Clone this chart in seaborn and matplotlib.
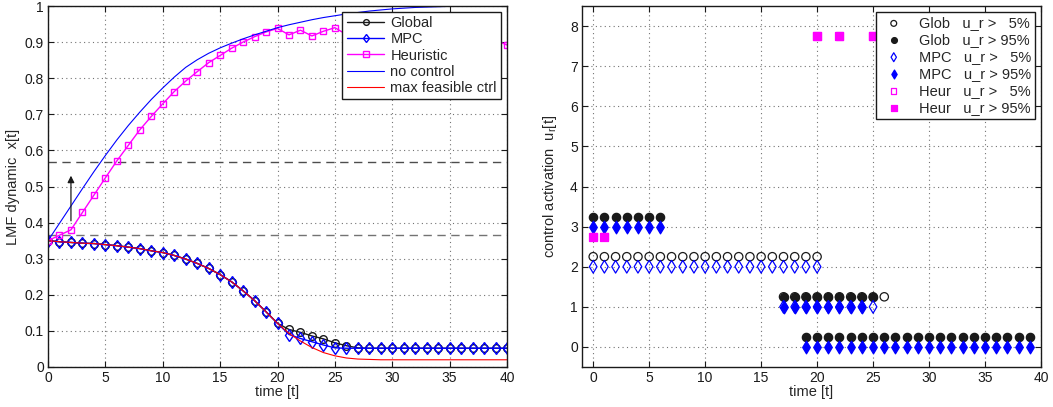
import numpy as np
import pandas as pd
import matplotlib
matplotlib.use("Agg")
import matplotlib.pyplot as plt
import seaborn as sns

# ---------------- data (left panel) ----------------
t = list(range(41))
global_x = [0.350, 0.347, 0.345, 0.343, 0.342, 0.339, 0.336, 0.332, 0.328, 0.322,
            0.317, 0.309, 0.299, 0.287, 0.273, 0.256, 0.236, 0.211, 0.184, 0.153,
            0.121, 0.104, 0.096, 0.086, 0.078, 0.067, 0.059, 0.053, 0.052, 0.052,
            0.052, 0.052, 0.052, 0.052, 0.052, 0.052, 0.052, 0.052, 0.052, 0.052, 0.052]
mpc_x = [0.350, 0.347, 0.345, 0.343, 0.342, 0.339, 0.336, 0.332, 0.328, 0.322,
         0.317, 0.309, 0.299, 0.287, 0.273, 0.256, 0.236, 0.211, 0.184, 0.153,
         0.121, 0.090, 0.079, 0.070, 0.061, 0.053, 0.052, 0.052, 0.052, 0.052,
         0.052, 0.052, 0.052, 0.052, 0.052, 0.052, 0.052, 0.052, 0.052, 0.052, 0.052]
heur_x = [0.350, 0.365, 0.380, 0.428, 0.476, 0.524, 0.571, 0.614, 0.657, 0.694,
          0.729, 0.763, 0.792, 0.818, 0.843, 0.863, 0.883, 0.900, 0.915, 0.928,
          0.938, 0.920, 0.933, 0.917, 0.930, 0.940, 0.921, 0.933, 0.918, 0.930,
          0.915, 0.926, 0.912, 0.922, 0.908, 0.917, 0.903, 0.912, 0.898, 0.905, 0.892]
noctrl_x = [0.350, 0.398, 0.446, 0.494, 0.541, 0.586, 0.629, 0.669, 0.706, 0.741,
            0.773, 0.803, 0.830, 0.851, 0.869, 0.884, 0.897, 0.909, 0.920, 0.930,
            0.940, 0.948, 0.955, 0.962, 0.968, 0.973, 0.978, 0.982, 0.986, 0.989,
            0.992, 0.994, 0.996, 0.997, 0.998, 0.999, 0.999, 1.000, 1.000, 1.000, 1.000]
maxctrl_x = [0.350, 0.347, 0.345, 0.343, 0.342, 0.339, 0.336, 0.332, 0.328, 0.322,
             0.317, 0.309, 0.299, 0.287, 0.273, 0.256, 0.236, 0.211, 0.184, 0.153,
             0.121, 0.093, 0.072, 0.054, 0.040, 0.031, 0.025, 0.022, 0.021, 0.020,
             0.020, 0.020, 0.020, 0.020, 0.020, 0.020, 0.020, 0.020, 0.020, 0.020, 0.020]
thresh_hi = 0.567
thresh_lo = 0.365
arrow_t = 2
arrow_from = 0.405
arrow_to = 0.53
left_yticks = [0, 0.1, 0.2, 0.3, 0.4, 0.5, 0.6, 0.7, 0.8, 0.9, 1]
left_yticklabels = ["0", "0.1", "0.2", "0.3", "0.4", "0.5", "0.6", "0.7", "0.8", "0.9", "1"]
xticks = [0, 5, 10, 15, 20, 25, 30, 35, 40]

# ---------------- data (right panel): (time, control unit) ----------------
glob_t5 = list(range(0, 21)) + list(range(17, 27))
glob_u5 = [2] * 21 + [1] * 10
glob_t95 = list(range(0, 7)) + list(range(17, 26)) + list(range(19, 40))
glob_u95 = [3] * 7 + [1] * 9 + [0] * 21
mpc_t5 = list(range(0, 21)) + list(range(17, 26))
mpc_u5 = [2] * 21 + [1] * 9
mpc_t95 = list(range(0, 7)) + list(range(17, 25)) + list(range(19, 40))
mpc_u95 = [3] * 7 + [1] * 8 + [0] * 21
heur_t5 = [0, 1, 20, 22, 25]
heur_u5 = [3, 3, 8, 8, 8]
heur_t95 = [0, 1, 20, 22, 25]
heur_u95 = [3, 3, 8, 8, 8]

# ---------------- style ----------------
sns.set_theme(style="ticks")
plt.rcParams["font.family"] = ["Liberation Sans", "DejaVu Sans"]
plt.rcParams["mathtext.default"] = "regular"
plt.rcParams["xtick.direction"] = "in"
plt.rcParams["ytick.direction"] = "in"

fig = plt.figure(figsize=(10.53, 4.07), dpi=100)
ax1 = fig.add_axes([48 / 1053, 40 / 407, 459 / 1053, 361 / 407])
ax2 = fig.add_axes([582 / 1053, 40 / 407, 459 / 1053, 361 / 407])

for ax in (ax1, ax2):
    ax.grid(True, linestyle=(0, (1, 3)), color="0.45", linewidth=0.8)
    ax.tick_params(top=True, right=True, labelsize=10, length=4, width=0.8, colors="k", pad=3)
    for s in ax.spines.values():
        s.set_linewidth(1.0)
        s.set_color("k")
    ax.set_axisbelow(True)

# ---------------- left panel ----------------
ax1.axhline(thresh_hi, ls=(0, (6, 4)), color="0.3", lw=1.0, zorder=1.5)
ax1.axhline(thresh_lo, ls=(0, (6, 4)), color="0.45", lw=1.0, zorder=1.5)

ms = 5.5
sns.lineplot(x=t, y=global_x, ax=ax1, color="k", lw=1.0, marker="o", ms=ms,
             mfc="none", mec="k", mew=1.0, label="Global")
sns.lineplot(x=t, y=mpc_x, ax=ax1, color="#0000ff", lw=1.0, marker="d", ms=ms + 0.5,
             mfc="none", mec="#0000ff", mew=1.0, label="MPC")
sns.lineplot(x=t, y=heur_x, ax=ax1, color="#ff00ff", lw=1.0, marker="s", ms=5,
             mfc="none", mec="#ff00ff", mew=1.0, label="Heuristic")
sns.lineplot(x=t, y=noctrl_x, ax=ax1, color="#0000ff", lw=0.8, label="no control")
sns.lineplot(x=t, y=maxctrl_x, ax=ax1, color="#ff0000", lw=0.8, label="max feasible ctrl")

ax1.annotate("", xy=(arrow_t, arrow_to), xytext=(arrow_t, arrow_from),
             arrowprops=dict(arrowstyle="-|>", color="k", lw=0.9,
                             mutation_scale=10, shrinkA=0, shrinkB=0))

ax1.set_xlim(0, 40)
ax1.set_ylim(0, 1)
ax1.set_xticks(xticks)
ax1.set_yticks(left_yticks)
ax1.set_yticklabels(left_yticklabels)
ax1.set_xlabel("time [t]", fontsize=10.5, labelpad=0)
ax1.set_ylabel("LMF dynamic  x[t]", fontsize=10.5, labelpad=3)
leg1 = ax1.legend(loc="upper right", fontsize=10.5, frameon=True, fancybox=False,
                  edgecolor="k", framealpha=1, borderpad=0.3, labelspacing=0.15,
                  handlelength=2.6, handletextpad=0.4, borderaxespad=0.4, markerscale=0.75)
leg1.get_frame().set_linewidth(1.0)

# ---------------- right panel ----------------
off = {"Glob": 0.25, "MPC": 0.0, "Heur": -0.25}
sc = 36
sns.scatterplot(x=glob_t5, y=np.array(glob_u5) + off["Glob"], ax=ax2, marker="o", s=sc,
                facecolor="none", edgecolor="k", linewidth=0.9, label="Glob   u_r >   5%")
sns.scatterplot(x=glob_t95, y=np.array(glob_u95) + off["Glob"], ax=ax2, marker="o", s=sc,
                color="k", edgecolor="k", linewidth=0.9, label="Glob   u_r > 95%")
sns.scatterplot(x=mpc_t5, y=np.array(mpc_u5) + off["MPC"], ax=ax2, marker="d", s=sc + 6,
                facecolor="none", edgecolor="#0000ff", linewidth=0.9, label="MPC   u_r >   5%")
sns.scatterplot(x=mpc_t95, y=np.array(mpc_u95) + off["MPC"], ax=ax2, marker="d", s=sc + 6,
                color="#0000ff", edgecolor="#0000ff", linewidth=0.9, label="MPC   u_r > 95%")
sns.scatterplot(x=heur_t5, y=np.array(heur_u5) + off["Heur"], ax=ax2, marker="s", s=28,
                facecolor="none", edgecolor="#ff00ff", linewidth=0.9, label="Heur   u_r >   5%")
sns.scatterplot(x=heur_t95, y=np.array(heur_u95) + off["Heur"], ax=ax2, marker="s", s=28,
                color="#ff00ff", edgecolor="#ff00ff", linewidth=0.9, label="Heur   u_r > 95%")

ax2.set_xlim(-1, 40)
ax2.set_ylim(-0.5, 8.5)
ax2.set_xticks(xticks)
ax2.set_yticks(range(0, 9))
ax2.set_xlabel("time [t]", fontsize=10.5, labelpad=0)
ax2.set_ylabel("control activation  u$_r$[t]", fontsize=10.5, labelpad=8)
leg2 = ax2.legend(loc="upper right", fontsize=10.5, frameon=True, fancybox=False,
                  edgecolor="k", framealpha=1, borderpad=0.3, labelspacing=0.2,
                  handlelength=1.8, handletextpad=0.8, borderaxespad=0.4, markerscale=0.7)
leg2.get_frame().set_linewidth(1.0)

fig.savefig("out.png", dpi=100)
